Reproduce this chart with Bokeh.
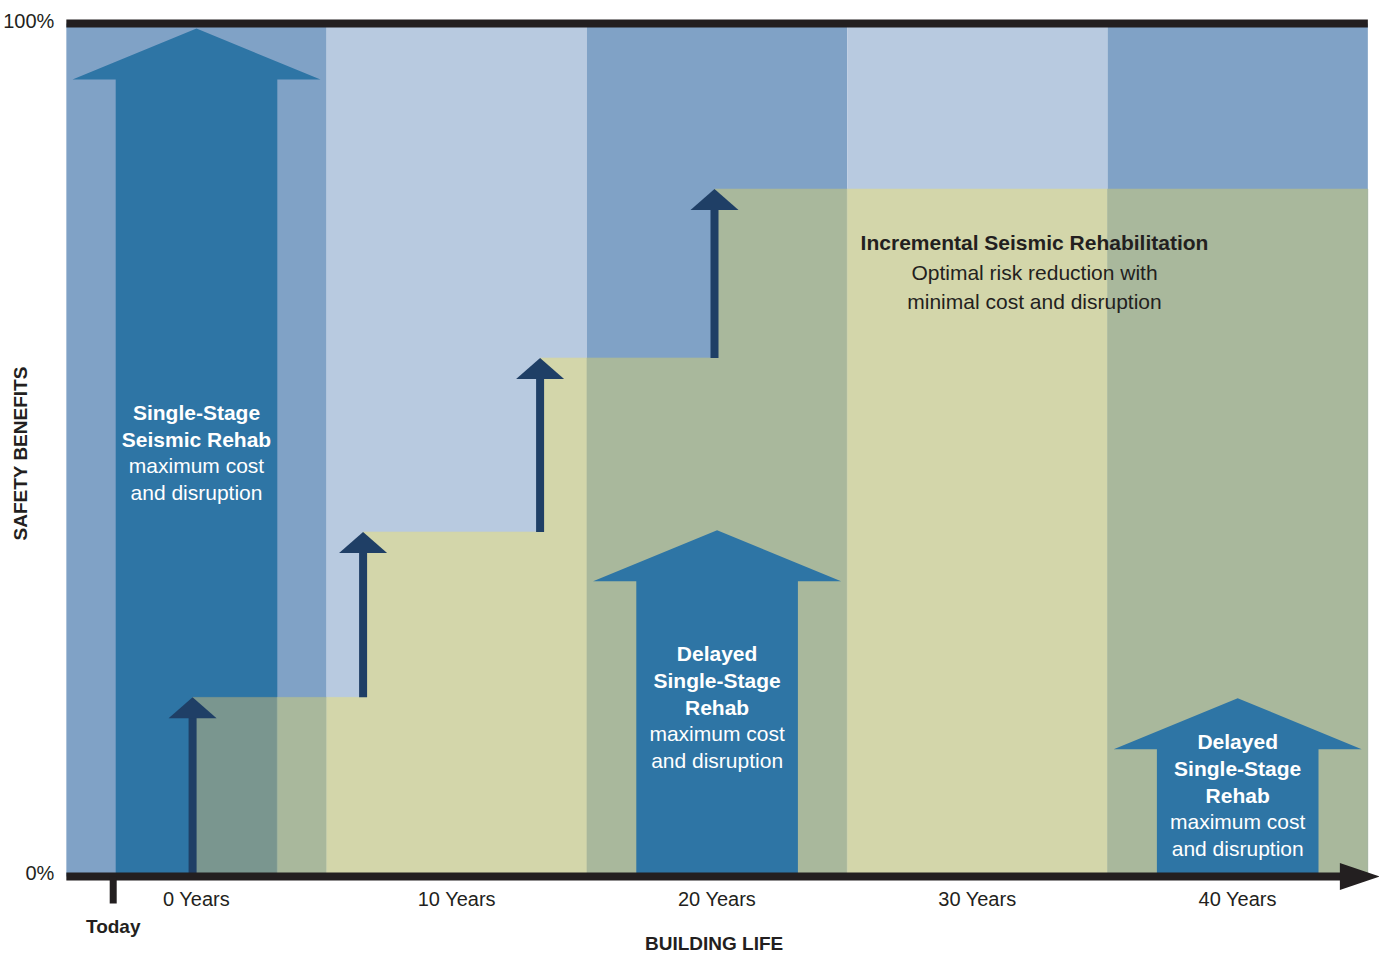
import math
from bokeh.plotting import figure
from bokeh.models import Range1d
from bokeh.core.properties import value
from bokeh.embed import file_html
from bokeh.resources import INLINE

# ---------------- data ----------------
tick_years = [0, 10, 20, 30, 40]
tick_labels = ["0 Years", "10 Years", "20 Years", "30 Years", "40 Years"]
column_edges = [-5, 5, 15, 25, 35, 45]
column_kind = ["dark", "light", "dark", "light", "dark"]
step_years = [-0.15, 6.4, 13.2, 19.9]
step_levels = [21.0, 40.4, 60.8, 80.6]
big_arrow_years = [0, 20, 40]
big_arrow_tops = [99.4, 40.6, 20.9]
today_year = -3.2
y_tick_values = [0, 100]
y_tick_labels = ["0%", "100%"]
arrow_titles = [["Single-Stage", "Seismic Rehab"],
                ["Delayed", "Single-Stage", "Rehab"],
                ["Delayed", "Single-Stage", "Rehab"]]
arrow_notes = ["maximum cost", "and disruption"]
incr_title = "Incremental Seismic Rehabilitation"
incr_notes = ["Optimal risk reduction with", "minimal cost and disruption"]
x_title = "BUILDING LIFE"
y_title = "SAFETY BENEFITS"
today_label = "Today"

# ---------------- layout / style ----------------
W, H = 1379, 954
MARGIN = 0
PAGE_X0, PX_YEAR = 196.0, 26.03
PAGE_Y0, PX_PCT = 876.0, 8.53
def dx(px): return px / PX_YEAR
def dy(px): return px / PX_PCT

DARK = "#80a2c6"
LIGHT = "#b8cae0"
BIG = "#2e75a5"
Y_LIGHT = "#d3d6aa"
Y_DARK = "#a9b89c"
Y_ARROW = "#7a968f"
SMALL = "#1f3f66"
INK = "#231f20"
FONT = value("Liberation Sans")

p = figure(width=W, height=H, output_backend="svg", toolbar_location=None,
           x_range=Range1d((MARGIN - PAGE_X0) / PX_YEAR, (MARGIN + W - PAGE_X0) / PX_YEAR),
           y_range=Range1d((PAGE_Y0 - (MARGIN + H)) / PX_PCT, (PAGE_Y0 - MARGIN) / PX_PCT),
           min_border=0, min_border_left=0, min_border_right=0,
           min_border_top=0, min_border_bottom=0,
           x_axis_location=None, y_axis_location=None)
p.grid.visible = False
p.outline_line_color = None
p.background_fill_color = "white"
p.border_fill_color = "white"

# columns
p.quad(left=column_edges[:-1], right=column_edges[1:], bottom=0, top=100,
       fill_color=[DARK if k == "dark" else LIGHT for k in column_kind], line_color=None)

SH = dx(80.8)   # shaft half width
HW = dx(124)    # head half width
HH = dy(51)     # head height

def big_arrow(c, t):
    xs = [c - SH, c - SH, c - HW, c, c + HW, c + SH, c + SH]
    ys = [0, t - HH, t - HH, t, t - HH, t - HH, 0]
    return xs, ys

# first big arrow (under the incremental area)
xs, ys = big_arrow(big_arrow_years[0], big_arrow_tops[0])
p.patch(xs, ys, fill_color=BIG, line_color=None)

# incremental (yellow) step area, coloured per overlapping region
a0l, a0r = big_arrow_years[0] - SH, big_arrow_years[0] + SH
bps = sorted(set([b for b in column_edges + step_years + [a0l, a0r]
                  if step_years[0] <= b <= column_edges[-1]]))
pieces = []
for l, r in zip(bps[:-1], bps[1:]):
    mid = 0.5 * (l + r)
    lvl = [step_levels[i] for i in range(len(step_years)) if step_years[i] <= l][-1]
    ci = max(i for i in range(len(column_kind)) if column_edges[i] <= mid)
    kind = column_kind[ci]
    if a0l < mid < a0r:
        col = Y_ARROW
    else:
        col = Y_DARK if kind == "dark" else Y_LIGHT
    pieces.append((l, r, lvl, col))

runs = []
for pc in pieces:
    if runs and runs[-1][-1][3] == pc[3]:
        runs[-1].append(pc)
    else:
        runs.append([pc])
pxs, pys, pcols = [], [], []
for run in runs:
    xs = [run[0][0]]
    ys = [0]
    for (l, r, lvl, col) in run:
        xs += [l, r]
        ys += [lvl, lvl]
    xs.append(run[-1][1])
    ys.append(0)
    pxs.append(xs); pys.append(ys); pcols.append(run[0][3])
p.patches(pxs, pys, fill_color=pcols, line_color=pcols, line_width=0.5)

# delayed big arrows (on top)
bx, by = [], []
for c, t in zip(big_arrow_years[1:], big_arrow_tops[1:]):
    xs, ys = big_arrow(c, t)
    bx.append(xs); by.append(ys)
p.patches(bx, by, fill_color=BIG, line_color=None)

# small incremental arrows
shw = dx(24); shh = dy(21)
sx0, sy0, sy1, hx, hy = [], [], [], [], []
for i, x in enumerate(step_years):
    bottom = step_levels[i - 1] if i > 0 else 0
    top = step_levels[i]
    sx0.append(x); sy0.append(bottom); sy1.append(top - shh + dy(1))
    hx.append([x - shw, x, x + shw]); hy.append([top - shh, top, top - shh])
p.segment(x0=sx0, y0=sy0, x1=sx0, y1=sy1, line_color=SMALL, line_width=8)
p.patches(hx, hy, fill_color=SMALL, line_color=None)

# frame bars
bar = dy(4)
p.quad(left=column_edges[0], right=column_edges[-1], bottom=100 - bar, top=100 + bar,
       fill_color=INK, line_color=None)
tip = column_edges[-1] + dx(12)
base = tip - dx(40)
p.quad(left=column_edges[0], right=base + dx(1), bottom=-bar, top=bar,
       fill_color=INK, line_color=None)
p.patch([base, tip, base], [dy(13.5), 0, -dy(13.5)], fill_color=INK, line_color=None)
p.quad(left=today_year - dx(3.5), right=today_year + dx(3.5), bottom=-dy(27), top=0,
       fill_color=INK, line_color=None)

# axis texts
p.text(x=[column_edges[0] - dx(12)] * 2,
       y=[y_tick_values[0] + dy(4), y_tick_values[1] + dy(3)],
       text=y_tick_labels, text_font=FONT, text_font_size="20px",
       text_align="right", text_baseline="middle", text_color=INK)
p.text(x=tick_years, y=[-dy(22)] * len(tick_years), text=tick_labels,
       text_font=FONT, text_font_size="20px", text_align="center",
       text_baseline="middle", text_color=INK)
p.text(x=[today_year], y=[-dy(50)], text=[today_label], text_font=FONT,
       text_font_size="19px", text_font_style="bold", text_align="center",
       text_baseline="middle", text_color=INK)
p.text(x=[20 - dx(3)], y=[-dy(67)], text=[x_title], text_font=FONT,
       text_font_size="19px", text_font_style="bold", text_align="center",
       text_baseline="middle", text_color=INK)
p.text(x=[(20 - PAGE_X0) / PX_YEAR], y=[49.6], text=[y_title], angle=math.pi / 2,
       text_font=FONT, text_font_size="19px", text_font_style="bold",
       text_align="center", text_baseline="middle", text_color=INK)

# arrow texts
block_tops = [54.4, 26.1, 15.8]
line_gap = dy(26.7)
for c, top, titles in zip(big_arrow_years, block_tops, arrow_titles):
    ys_t = [top - i * line_gap for i in range(len(titles))]
    ys_n = [top - (len(titles) + i) * line_gap for i in range(len(arrow_notes))]
    p.text(x=[c] * len(titles), y=ys_t, text=titles, text_font=FONT,
           text_font_size="21px", text_font_style="bold", text_align="center",
           text_baseline="middle", text_color="white")
    p.text(x=[c] * len(arrow_notes), y=ys_n, text=arrow_notes, text_font=FONT,
           text_font_size="21px", text_align="center", text_baseline="middle",
           text_color="white")

ix = (1034 - PAGE_X0) / PX_YEAR
p.text(x=[ix], y=[74.3], text=[incr_title], text_font=FONT, text_font_size="21px",
       text_font_style="bold", text_align="center", text_baseline="middle", text_color=INK)
p.text(x=[ix, ix], y=[74.3 - dy(29.5), 74.3 - 2 * dy(29.5)], text=incr_notes,
       text_font=FONT, text_font_size="21px", text_align="center",
       text_baseline="middle", text_color=INK)

open("out.html", "w").write(file_html(p, INLINE))
